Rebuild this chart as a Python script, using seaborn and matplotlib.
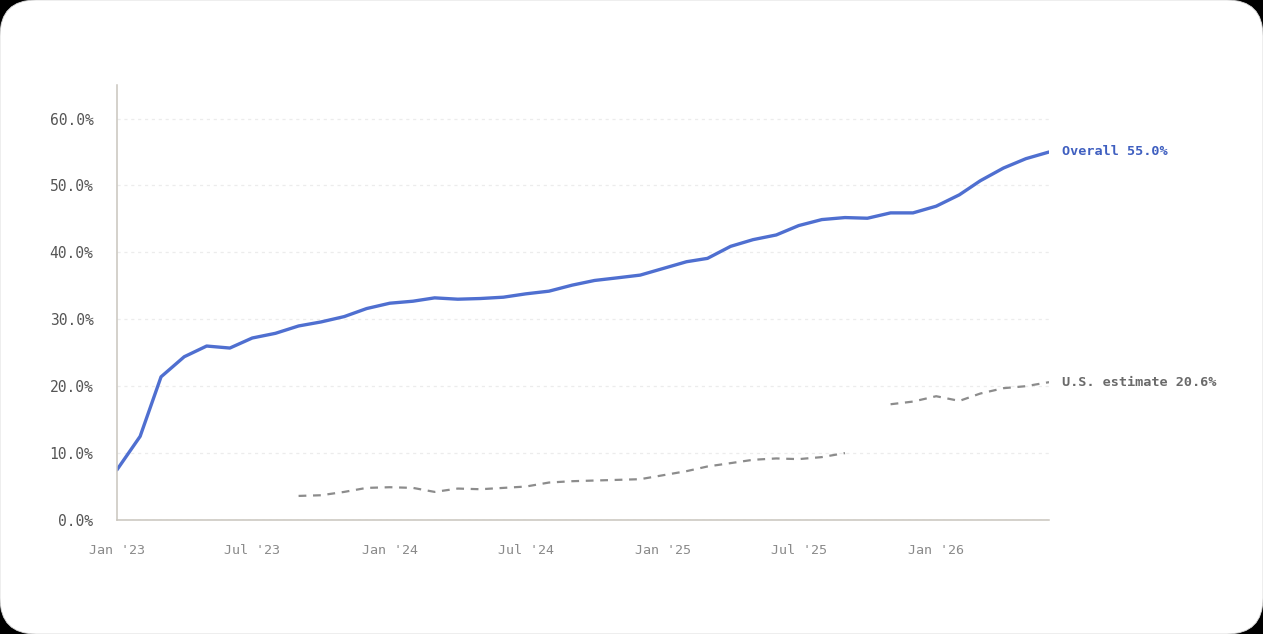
import numpy as np
import pandas as pd
import matplotlib
matplotlib.use("Agg")
import matplotlib.pyplot as plt
import matplotlib.dates as mdates
from matplotlib.patches import FancyBboxPatch
import seaborn as sns

# monthly data, Jan 2023 - Jun 2026
months = pd.date_range("2023-01-01", "2026-06-01", freq="MS")

overall = [7.5, 12.5, 21.4, 24.4, 26.0, 25.7, 27.2, 27.9, 29.0, 29.6,
           30.4, 31.6, 32.4, 32.7, 33.2, 33.0, 33.1, 33.3, 33.8, 34.2,
           35.1, 35.8, 36.2, 36.6, 37.6, 38.6, 39.1, 40.9, 41.9, 42.6,
           44.0, 44.9, 45.2, 45.1, 45.9, 45.9, 46.9, 48.6, 50.7, 52.6,
           54.0, 55.0]

us_estimate = [np.nan] * 8 + [
    3.6, 3.7, 4.2, 4.8, 4.9, 4.8, 4.2, 4.7, 4.6, 4.8,
    5.0, 5.6, 5.8, 5.9, 6.0, 6.1, 6.7, 7.3, 8.0, 8.5,
    9.0, 9.2, 9.1, 9.4, 10.0, np.nan, 17.3, 17.7, 18.5, 17.8,
    18.9, 19.7, 20.0, 20.6]

y_ticks = [0, 10, 20, 30, 40, 50, 60]

df = pd.DataFrame({"month": months, "overall": overall, "us": us_estimate})
# the estimate has a gap, so split it into runs (seaborn drops NaN and would bridge it)
df["run"] = df["us"].isna().cumsum()

sns.set_style("white")
plt.rcParams["font.family"] = ["DejaVu Sans Mono", "DejaVu Sans"]

fig = plt.figure(figsize=(12.63, 6.34), dpi=100)
fig.patch.set_facecolor("black")

# white rounded card behind everything
card = FancyBboxPatch((0.0, 0.0), 12.63, 6.34,
                      boxstyle="round,pad=0,rounding_size=0.36",
                      transform=fig.dpi_scale_trans,
                      facecolor="white", edgecolor="#d8d8d8", linewidth=0.6,
                      zorder=-10)
fig.patches.append(card)

ax = fig.add_axes([0.0926, 0.1798, 0.738, 0.686])
ax.set_facecolor("none")

blue = "#4f6fd0"
gray = "#8c8c8c"

sns.lineplot(data=df, x="month", y="overall", ax=ax, color=blue,
             linewidth=2.4, solid_capstyle="round", solid_joinstyle="round")
sns.lineplot(data=df.dropna(subset=["us"]), x="month", y="us", units="run",
             estimator=None, ax=ax, color=gray,
             linewidth=1.6, linestyle=(0, (3.5, 3)))

ax.set_xlim(months[0], months[-1])
ax.set_ylim(0, 65)
ax.set_yticks(y_ticks)
ax.set_yticklabels([f"{v:.1f}%" for v in y_ticks])
ax.xaxis.set_major_locator(mdates.MonthLocator(bymonth=[1, 7]))
ax.xaxis.set_major_formatter(mdates.DateFormatter("%b '%y"))
ax.set_xlabel("")
ax.set_ylabel("")

ax.grid(axis="y", color="#ececec", linestyle=(0, (2.5, 3)), linewidth=0.9)
ax.grid(axis="x", visible=False)
for side in ["top", "right"]:
    ax.spines[side].set_visible(False)
for side in ["left", "bottom"]:
    ax.spines[side].set_color("#c9c5bd")
    ax.spines[side].set_linewidth(1.1)

ax.tick_params(axis="y", length=0, pad=17, labelsize=10.5, labelcolor="#555555")
ax.tick_params(axis="x", length=0, pad=17, labelsize=9.6, labelcolor="#8a8a8a")

# end labels
ax.annotate(f"Overall {overall[-1]:.1f}%", xy=(months[-1], overall[-1]),
            xytext=(9.5, 0), textcoords="offset points", va="center",
            color="#3f5fc0", fontsize=9.7, fontweight="bold",
            annotation_clip=False)
ax.annotate(f"U.S. estimate {us_estimate[-1]:.1f}%", xy=(months[-1], us_estimate[-1]),
            xytext=(9.5, 0), textcoords="offset points", va="center",
            color="#6a6a6a", fontsize=9.7, fontweight="bold",
            annotation_clip=False)

fig.savefig("out.png", dpi=100, facecolor=fig.get_facecolor())
